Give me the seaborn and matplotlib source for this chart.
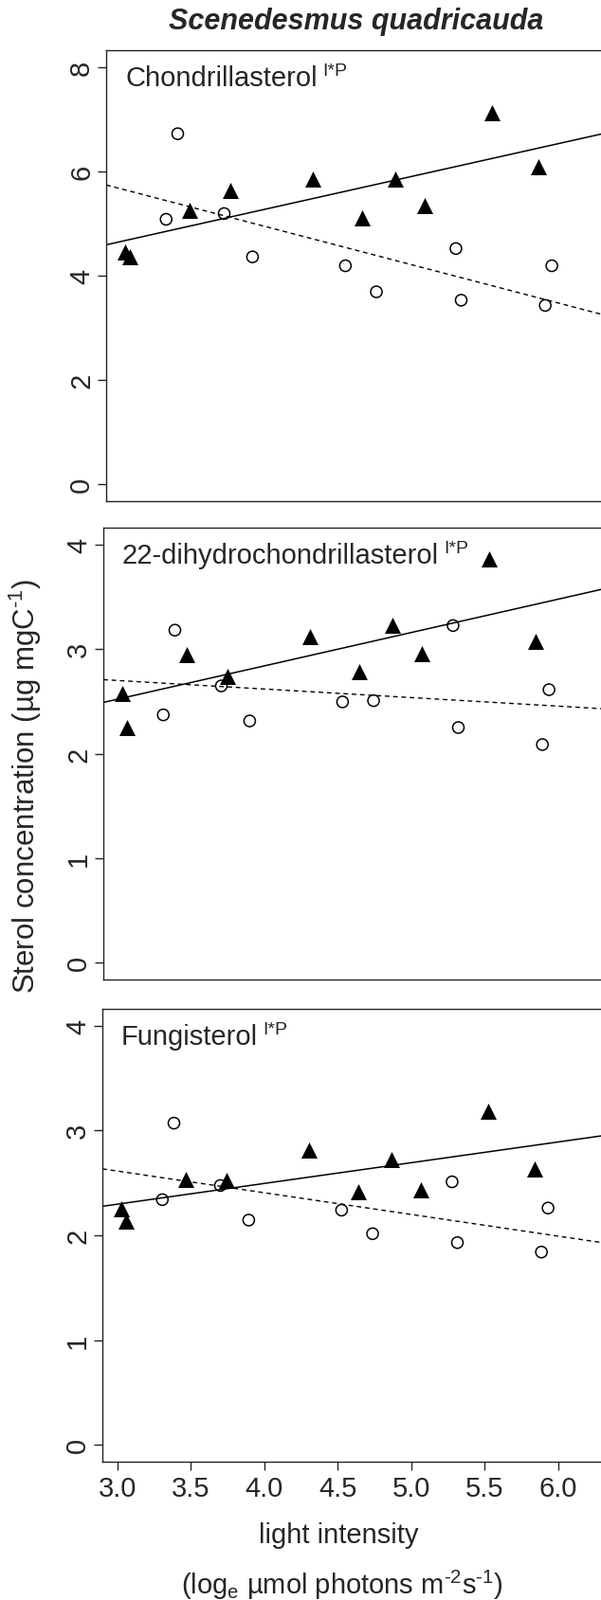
import matplotlib
matplotlib.use("Agg")
import matplotlib.pyplot as plt
import seaborn as sns

# light intensity (log_e umol photons m-2 s-1), one list per symbol group
light_tri = [3.026, 3.057, 3.465, 3.742, 4.305, 4.640, 4.864, 5.063, 5.520, 5.838]
light_circ = [3.305, 3.384, 3.700, 3.893, 4.525, 4.736, 5.277, 5.313, 5.885, 5.930]

# sterol concentration (ug mgC-1)
chon_tri = [4.46, 4.37, 5.25, 5.64, 5.85, 5.11, 5.85, 5.34, 7.13, 6.08]
chon_circ = [5.08, 6.72, 5.19, 4.36, 4.19, 3.69, 4.52, 3.53, 3.43, 4.19]
dihy_tri = [2.575, 2.25, 2.946, 2.741, 3.118, 2.78, 3.224, 2.96, 3.864, 3.073]
dihy_circ = [2.37, 3.18, 2.647, 2.312, 2.494, 2.506, 3.224, 2.249, 2.086, 2.611]
fung_tri = [2.25, 2.14, 2.53, 2.52, 2.815, 2.42, 2.72, 2.43, 3.185, 2.635]
fung_circ = [2.34, 3.07, 2.475, 2.145, 2.24, 2.015, 2.51, 1.93, 1.84, 2.26]

panel_names = ["Chondrillasterol", "22-dihydrochondrillasterol", "Fungisterol"]
panel_sup = "I*P"
y_ticks = [[0, 2, 4, 6, 8], [0, 1, 2, 3, 4], [0, 1, 2, 3, 4]]
y_lims = [(-0.32, 8.32), (-0.16, 4.16), (-0.16, 4.16)]
x_ticks = [3.0, 3.5, 4.0, 4.5, 5.0, 5.5, 6.0]
x_labels = ["3.0", "3.5", "4.0", "4.5", "5.0", "5.5", "6.0"]

sns.set_style("ticks")
plt.rcParams['font.family'] = ['Liberation Sans', 'DejaVu Sans']
plt.rcParams['mathtext.fontset'] = 'custom'
plt.rcParams['mathtext.rm'] = 'Liberation Sans'
plt.rcParams['mathtext.it'] = 'Liberation Sans:italic'

W, H = 634, 1690
fig = plt.figure(figsize=(W / 100, H / 100), dpi=100)

# axes boxes in pixels: left, top, bottom (right side runs off the figure)
boxes = [(112, 54, 530), (109, 558, 1035), (108, 1066, 1544)]
ax_w = 574
xlim = (2.897, 6.6)

data = [(chon_tri, chon_circ), (dihy_tri, dihy_circ), (fung_tri, fung_circ)]

for i, (left, top, bottom) in enumerate(boxes):
    ax = fig.add_axes([left / W, 1 - bottom / H, ax_w / W, (bottom - top) / H])
    ax.set_xlim(xlim)
    ax.set_ylim(y_lims[i])
    y_tri, y_circ = data[i]

    # regression lines (fit per group)
    sns.regplot(x=light_tri, y=y_tri, scatter=False, ci=None, truncate=False,
                color='black', line_kws=dict(lw=1.1), ax=ax)
    sns.regplot(x=light_circ, y=y_circ, scatter=False, ci=None, truncate=False,
                color='black', line_kws=dict(lw=1.0, ls=(0, (3.5, 2.8))), ax=ax)

    sns.scatterplot(x=light_tri, y=y_tri, marker='^', s=150, color='black',
                    edgecolor='black', linewidth=0, ax=ax)
    sns.scatterplot(x=light_circ, y=y_circ, marker='o', s=75, color='black',
                    linewidth=1.1, ax=ax)
    pts = ax.collections[-1]
    pts.set_facecolor('none')
    pts.set_edgecolor('black')

    ax.set_xlim(xlim)
    ax.set_ylim(y_lims[i])
    ax.set_xlabel("")
    ax.set_ylabel("")

    for sp in ax.spines.values():
        sp.set_linewidth(1.0)
        sp.set_color('#222222')

    ax.set_yticks(y_ticks[i])
    ax.set_yticklabels([str(t) for t in y_ticks[i]])
    ax.tick_params(axis='y', length=6.5, width=1.0, color='#222222',
                   labelsize=21, pad=2)
    for lab in ax.get_yticklabels():
        lab.set_rotation(90)
        lab.set_va('center')

    if i == 2:
        ax.set_xticks(x_ticks)
        ax.set_xticklabels(x_labels)
        ax.tick_params(axis='x', length=6.5, width=1.0, color='#222222',
                       labelsize=21, pad=3.5)
    else:
        ax.set_xticks([])

    lab = ax.annotate(panel_names[i], xy=(0, 1), xycoords='axes fraction',
                      xytext=(14.4, -26.5), textcoords='offset points',
                      ha='left', va='baseline', fontsize=21)
    ax.annotate(panel_sup, xy=(1, 1), xycoords=lab, xytext=(4, 1.5),
                textcoords='offset points', ha='left', va='top', fontsize=14)

fig.text(376 / W, 1 - 31 / H, "Scenedesmus quadricauda", ha='center', va='baseline',
         fontsize=22, fontweight='bold', fontstyle='italic')

fig.text(27 / W, 1 - 830 / H, r"Sterol concentration (µg mgC$^{\text{-1}}$)",
         rotation=90, ha='center', va='center', fontsize=22.5)

fig.text(357 / W, 1 - 1629 / H, "light intensity", ha='center', va='baseline', fontsize=21)
fig.text(361 / W, 1 - 1683 / H,
         r"(log$_{\text{e}}$ µmol photons m$^{\text{-2}}$s$^{\text{-1}}$)",
         ha='center', va='baseline', fontsize=21)

fig.savefig("out.png", dpi=100)
